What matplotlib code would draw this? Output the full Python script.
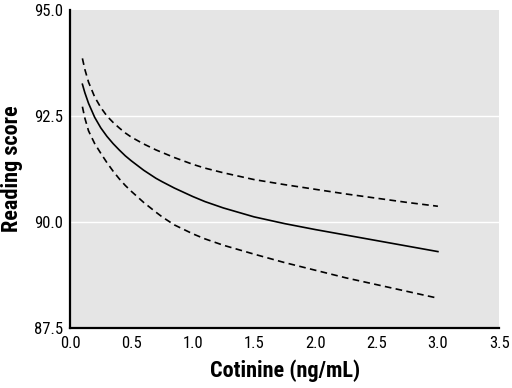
import matplotlib
matplotlib.use("Agg")
import matplotlib.pyplot as plt
from matplotlib import font_manager

# pick a condensed sans if one is installed, like the journal's typeface
installed = {f.name for f in font_manager.fontManager.ttflist}
narrow = None
for name in ["Liberation Sans Narrow", "DejaVu Sans Condensed", "Roboto Condensed",
             "Open Sans Condensed"]:
    if name in installed:
        narrow = name
        break
if narrow:
    plt.rcParams["font.family"] = [narrow, "DejaVu Sans"]
    tick_size, label_size = 12, 16
else:
    plt.rcParams["font.family"] = ["Liberation Sans", "DejaVu Sans"]
    plt.rcParams["font.stretch"] = "condensed"
    tick_size, label_size = 10, 12.5

# Cotinine (ng/mL) and reading score values
cotinine = [0.1, 0.12, 0.15, 0.2, 0.25, 0.3, 0.35, 0.4, 0.45, 0.5, 0.6, 0.7,
            0.75, 0.85, 1.0, 1.1, 1.25, 1.5, 1.75, 2.0, 2.25, 2.5, 2.75, 3.0]
score = [93.25, 93.05, 92.8, 92.47, 92.22, 92.02, 91.85, 91.7, 91.56, 91.44,
         91.22, 91.03, 90.95, 90.8, 90.6, 90.48, 90.33, 90.12, 89.96, 89.82,
         89.69, 89.56, 89.43, 89.3]
upper = [93.86, 93.6, 93.3, 92.95, 92.7, 92.5, 92.35, 92.22, 92.1, 92.0,
         91.84, 91.7, 91.64, 91.52, 91.36, 91.27, 91.16, 91.0, 90.88, 90.77,
         90.66, 90.56, 90.46, 90.37]
lower = [92.72, 92.45, 92.15, 91.85, 91.62, 91.4, 91.2, 91.02, 90.86, 90.72,
         90.46, 90.23, 90.12, 89.93, 89.72, 89.6, 89.45, 89.24, 89.04, 88.86,
         88.68, 88.52, 88.36, 88.2]

x_ticks = [0.0, 0.5, 1.0, 1.5, 2.0, 2.5, 3.0, 3.5]
y_ticks = [87.5, 90.0, 92.5, 95.0]

fig = plt.figure(figsize=(5.12, 3.88), dpi=100)
ax = fig.add_axes([0.137, 0.155, 0.838, 0.819])
ax.set_facecolor("#e5e5e5")

ax.plot(cotinine, score, color="black", lw=1.2)
ax.plot(cotinine, upper, color="black", lw=1.2, ls=(0, (4, 2.6)))
ax.plot(cotinine, lower, color="black", lw=1.2, ls=(0, (4, 2.6)))

ax.set_xlim(0, 3.5)
ax.set_ylim(87.5, 95.0)
ax.set_xticks(x_ticks)
ax.set_xticklabels([f"{t:.1f}" for t in x_ticks])
ax.set_yticks(y_ticks)
ax.set_yticklabels([f"{t:.1f}" for t in y_ticks])
ax.tick_params(length=0, labelsize=tick_size)
ax.tick_params(axis="x", pad=6)
ax.tick_params(axis="y", pad=5)

for y in [90.0, 92.5]:
    ax.axhline(y, color="white", lw=1, zorder=0.5)

for side in ["top", "right"]:
    ax.spines[side].set_visible(False)
for side in ["left", "bottom"]:
    ax.spines[side].set_linewidth(1.6)

ax.set_xlabel("Cotinine (ng/mL)", fontsize=label_size, fontweight="bold", labelpad=6)
ax.set_ylabel("Reading score", fontsize=label_size, fontweight="bold", labelpad=8)

fig.savefig("out.png", dpi=100)
